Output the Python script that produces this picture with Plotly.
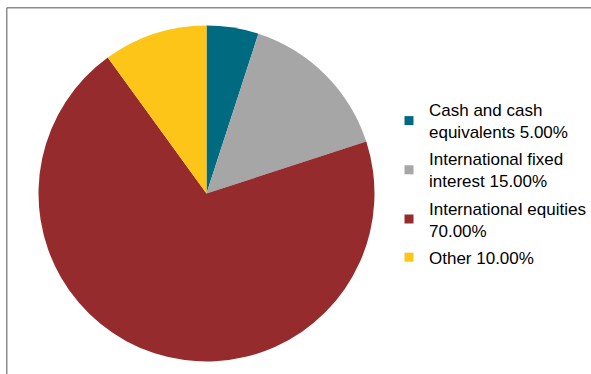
import plotly.graph_objects as go

labels = ["Cash and cash<br>equivalents 5.00%", "International fixed<br>interest 15.00%",
          "International equities<br>70.00%", "Other 10.00%"]
values = [5.0, 15.0, 70.0, 10.0]
colors = ["#006B80", "#A6A6A6", "#962B2D", "#FDC518"]

W, H = 591, 374
cx, cy, r = 206.5, 193.5, 168

fig = go.Figure()
fig.add_trace(go.Pie(
    labels=labels, values=values, sort=False, direction="clockwise", rotation=0,
    marker=dict(colors=colors, line=dict(width=0)), textinfo="none", hoverinfo="label",
    showlegend=False,
    domain=dict(x=[(cx - r) / W, (cx + r) / W], y=[1 - (cy + r) / H, 1 - (cy - r) / H]),
))
# legend entries (square swatches)
for i, (lab, col) in enumerate(zip(labels, colors)):
    fig.add_trace(go.Scatter(
        x=[None], y=[None], mode="markers", name=lab, legendgroup=f"g{i}",
        marker=dict(symbol="square", size=9, color=col), showlegend=True, hoverinfo="skip",
    ))
border = dict(color="#8C8C8C", width=1.5)
bx, by = 6.75, 7.75
fig.update_layout(
    width=W, height=H, margin=dict(l=0, r=0, t=0, b=0),
    paper_bgcolor="white", plot_bgcolor="white",
    xaxis=dict(visible=False), yaxis=dict(visible=False),
    font=dict(family="Liberation Sans, Arial, sans-serif", size=17, color="#000000"),
    legend=dict(x=389 / W, xanchor="left", y=1 - 92 / H, yanchor="top",
                font=dict(size=17), itemwidth=30, tracegroupgap=2,
                bgcolor="rgba(0,0,0,0)"),
    shapes=[
        dict(type="line", xref="paper", yref="paper", x0=bx / W, x1=1, y0=1 - by / H, y1=1 - by / H, line=border),
        dict(type="line", xref="paper", yref="paper", x0=bx / W, x1=bx / W, y0=0, y1=1 - by / H, line=border),
    ],
)
fig.write_html("out.html", config={"displayModeBar": False},
               post_script="document.body.style.margin='0';document.body.style.overflow='hidden';")
